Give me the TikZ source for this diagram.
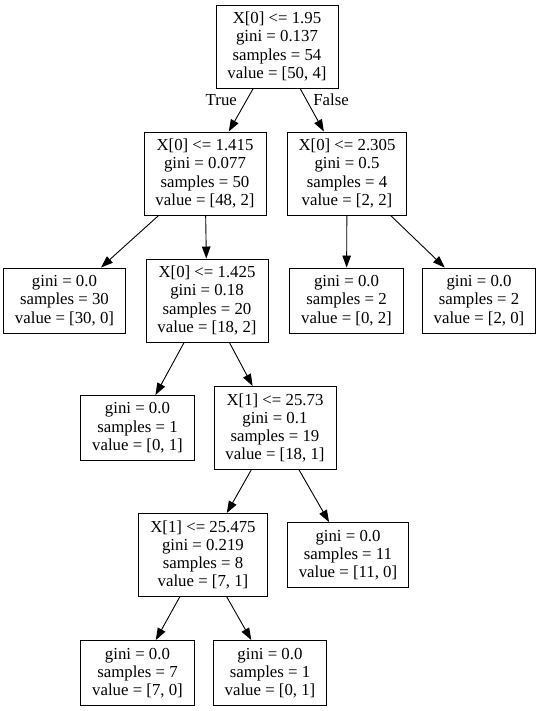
\documentclass[tikz,border=0pt]{standalone}
\usepackage{fontspec}
\setmainfont{Liberation Serif}
\usetikzlibrary{arrows.meta}

\begin{document}
\begin{tikzpicture}[split/.style = {draw, rectangle, align=center, inner xsep=11.5pt, inner ysep=0pt, minimum height=83pt, line width=0.9pt, font=\fontsize{16.8}{18.3}\selectfont},
    leaf/.style = {split, minimum height=65pt},
    edge/.style = {-{Triangle[length=12pt, width=8.5pt]}, line width=0.9pt},
    lbl/.style = {font=\fontsize{16.8}{18.3}\selectfont}]

        \useasboundingbox (0,0) rectangle (540pt,-711pt);

        \node[split, xshift=277pt, yshift=-46.5pt] (0) {X[0] <= 1.95\\gini = 0.137\\samples = 54\\value = [50, 4]};
        \node[split, xshift=205pt, yshift=-173.5pt] (1) {X[0] <= 1.415\\gini = 0.077\\samples = 50\\value = [48, 2]};
        \node[split, xshift=347pt, yshift=-173.5pt] (2) {X[0] <= 2.305\\gini = 0.5\\samples = 4\\value = [2, 2]};
        \node[leaf, xshift=64.5pt, yshift=-300.5pt] (3) {gini = 0.0\\samples = 30\\value = [30, 0]};
        \node[split, xshift=207pt, yshift=-300.5pt] (4) {X[0] <= 1.425\\gini = 0.18\\samples = 20\\value = [18, 2]};
        \node[leaf, xshift=346.5pt, yshift=-300.5pt] (5) {gini = 0.0\\samples = 2\\value = [0, 2]};
        \node[leaf, xshift=479pt, yshift=-300.5pt] (6) {gini = 0.0\\samples = 2\\value = [2, 0]};
        \node[leaf, xshift=137.5pt, yshift=-428pt] (7) {gini = 0.0\\samples = 1\\value = [0, 1]};
        \node[split, xshift=275pt, yshift=-428pt] (8) {X[1] <= 25.73\\gini = 0.1\\samples = 19\\value = [18, 1]};
        \node[split, xshift=203pt, yshift=-555pt] (9) {X[1] <= 25.475\\gini = 0.219\\samples = 8\\value = [7, 1]};
        \node[leaf, xshift=348pt, yshift=-555pt] (10) {gini = 0.0\\samples = 11\\value = [11, 0]};
        \node[leaf, xshift=137.5pt, yshift=-673pt] (11) {gini = 0.0\\samples = 7\\value = [7, 0]};
        \node[leaf, xshift=270pt, yshift=-673pt] (12) {gini = 0.0\\samples = 1\\value = [0, 1]};

        \draw[edge] (0) -- node[lbl, pos=0.27, left=6pt] {True} (1);
        \draw[edge] (0) -- node[lbl, pos=0.27, right=3pt] {False} (2);
        \draw[edge] (1) -- (3);
        \draw[edge] (1) -- (4);
        \draw[edge] (2) -- (5);
        \draw[edge] (2) -- (6);
        \draw[edge] (4) -- (7);
        \draw[edge] (4) -- (8);
        \draw[edge] (8) -- (9);
        \draw[edge] (8) -- (10);
        \draw[edge] (9) -- (11);
        \draw[edge] (9) -- (12);

        \end{tikzpicture}
\end{document}
